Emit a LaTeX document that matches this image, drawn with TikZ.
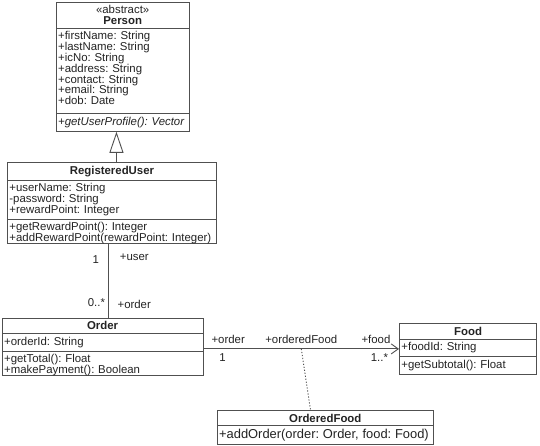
\documentclass[tikz,border=0pt]{standalone}
\usepackage{fontspec}
\setsansfont{Liberation Sans}
\usetikzlibrary{shapes.multipart, arrows.meta, positioning}
\definecolor{linegray}{RGB}{80,80,80}
\definecolor{textgray}{RGB}{35,35,35}
\newcommand{\classtitle}[1]{\vtop{\centering#1\par}}
\newcommand{\partpad}[1]{\par\vspace{#1}\hrule height 0pt}

\begin{document}
\begin{tikzpicture}[
    x=1pt, y=-1pt,
    font=\sffamily\fontsize{11.4}{10.8}\selectfont\frenchspacing,
    % class box styles
    classbox/.style={
        draw=linegray, fill=white, line width=0.9pt, rectangle split, rectangle split parts=3,
        inner xsep=2pt, inner ysep=3pt, text=textgray, anchor=north west
    },
    role/.style={
        inner sep=0pt, text=textgray
    },
    generalize/.style={
        -{Triangle[open, length=21pt, width=14pt]}, draw=linegray, line width=0.9pt
    },
    assoc/.style={
        draw=linegray, line width=0.9pt
    },
    assoc_class/.style={
        draw=linegray, line width=0.9pt, dash pattern=on 1.2pt off 1.8pt
    }
]
    \useasboundingbox (0,0) rectangle (540,446);

    % --- PERSON (abstract) ---
    \node[classbox, text width=129pt] (person) at (55.7, 1.7) {%
        \classtitle{«abstract»\par\textbf{Person}}%
        \nodepart{second}\raggedright +firstName: String\\+lastName: String\\+icNo: String\\+address: String\\+contact: String\\+email: String\\+dob: Date\partpad{5.5pt}%
        \nodepart{third}\raggedright \textit{+getUserProfile(): Vector}%
    };

    % --- REGISTERED USER ---
    \node[classbox, text width=205pt] (reguser) at (7, 162) {%
        \classtitle{\textbf{RegisteredUser}}%
        \nodepart{second}\raggedright +userName: String\\-password: String\\+rewardPoint: Integer%
        \nodepart{third}\raggedright +getRewardPoint(): Integer\\+addRewardPoint(rewardPoint: Integer)\partpad{-4.5pt}%
    };

    % --- ORDER ---
    \node[classbox, text width=197pt] (order) at (1.7, 317.7) {%
        \classtitle{\textbf{Order}}%
        \nodepart{second}\raggedright +orderId: String%
        \nodepart{third}\raggedright +getTotal(): Float\\+makePayment(): Boolean\partpad{-4pt}%
    };

    % --- FOOD ---
    \node[classbox, text width=133.4pt] (food) at (399, 323.3) {%
        \classtitle{\textbf{Food}}%
        \nodepart{second}\raggedright +foodId: String%
        \nodepart{third}\raggedright +getSubtotal(): Float%
    };

    % --- ORDERED FOOD (association class) ---
    \node[classbox, rectangle split parts=2, text width=212.3pt] (orderedfood) at (216.7, 410) {%
        \classtitle{\textbf{OrderedFood}}%
        \nodepart{second}\raggedright\fontsize{12.9}{11}\selectfont +addOrder(order: Order, food: Food)%
    };

    % Inheritance
    \draw[generalize] ([xshift=4.5pt]reguser.north) -- ([xshift=4.5pt]reguser.north |- person.south);

    % User - Order
    \draw[assoc] ([xshift=-3.5pt]reguser.south) -- ([xshift=-3.5pt]reguser.south |- order.north)
        node[role, pos=0.224, left=9pt] {1}
        node[role, pos=0.184, right=11pt] {+user}
        node[role, pos=0.79, left=3pt] {0..*}
        node[role, pos=0.815, right=8.7pt] {+order};

    % Order - Food
    \draw[assoc, -{Straight Barb[length=7pt, width=10pt]}] (order.east |- food.west) -- coordinate[pos=0.5] (link_mid) (food.west)
        node[role, pos=0.126, above=5pt] {+order}
        node[role, pos=0.097, below=4pt] {1}
        node[role, pos=0.5, above=5pt] {+orderedFood}
        node[role, pos=0.882, above=5pt] {+food}
        node[role, pos=0.9, below=4pt] {1..*};

    % Association class link
    \draw[assoc_class] (link_mid) -- ([xshift=-14.8pt]orderedfood.north);

\end{tikzpicture}
\end{document}
